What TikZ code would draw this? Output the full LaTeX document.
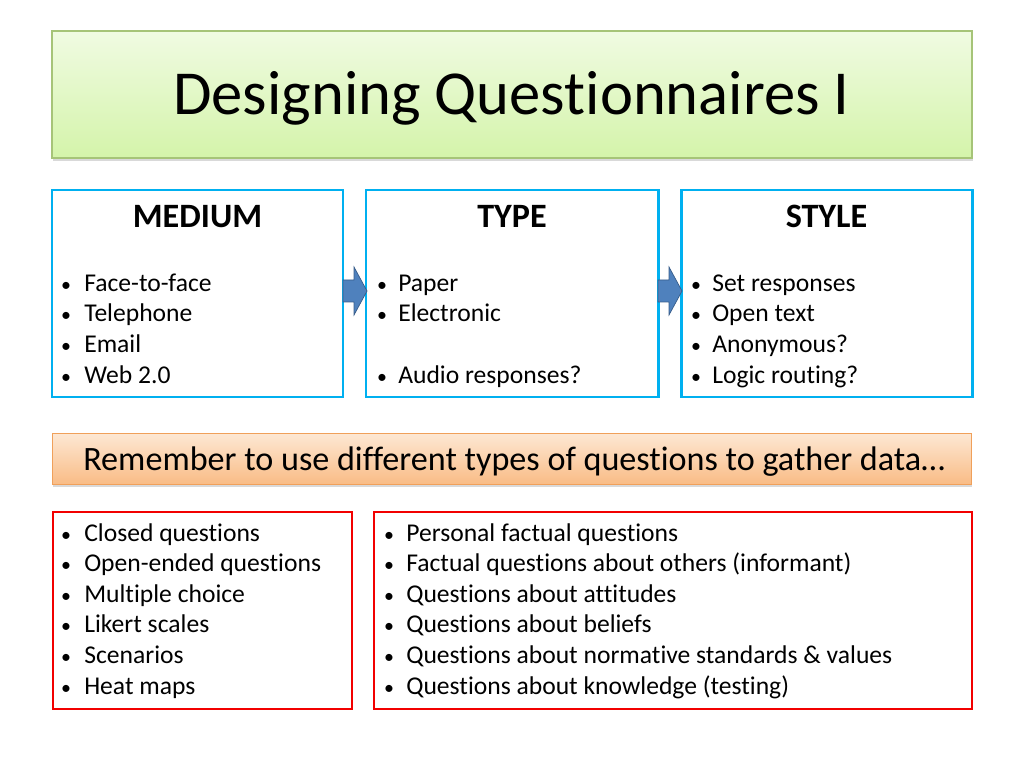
\documentclass[tikz,border=0pt]{standalone}
\usepackage{fontspec}
\setmainfont[Ligatures={NoCommon}]{Carlito}
\usetikzlibrary{shadows,calc}
\newlength\pxl
\setlength\pxl{0.703125pt}
\definecolor{boxblue}{RGB}{0,176,240}
\definecolor{arrowblue}{RGB}{79,129,189}
\definecolor{arrowdark}{RGB}{56,93,138}
\definecolor{greentop}{RGB}{240,251,226}
\definecolor{greenbot}{RGB}{212,244,170}
\definecolor{greenline}{RGB}{166,196,120}
\definecolor{orangetop}{RGB}{253,232,212}
\definecolor{orangebot}{RGB}{249,188,134}
\definecolor{orangeline}{RGB}{240,160,90}
\tikzset{
  panel/.style={anchor=north west, inner sep=0pt, outer sep=0pt},
  bluebox/.style={panel, draw=boxblue, line width=2.1pt, fill=white},
  redbox/.style={panel, draw=red!95!black, line width=2pt, fill=white},
  titlebox/.style={panel, draw=greenline, line width=0.8pt, top color=greentop, bottom color=greenbot,
     drop shadow={shadow xshift=1pt, shadow yshift=-2pt, opacity=0.3}},
  bannerbox/.style={panel, draw=orangeline, line width=0.6pt, top color=orangetop, bottom color=orangebot,
     drop shadow={shadow xshift=1pt, shadow yshift=-2pt, opacity=0.3}},
  txt/.style={inner sep=0pt, anchor=base west, font=\fontsize{18}{21.6}\selectfont},
  bul/.style={inner sep=0pt, anchor=base, font=\fontsize{14}{16.8}\selectfont},
  head/.style={inner sep=0pt, anchor=base, font=\fontsize{24}{28.8}\selectfont\bfseries},
  blockarrow/.style={fill=arrowblue, draw=arrowdark, line width=0.5pt, line join=miter},
}
\begin{document}
\begin{tikzpicture}[x=0.703125pt, y=-0.703125pt]
\useasboundingbox (0,0) rectangle (1024,768);
% title
\node[titlebox, minimum width=920\pxl, minimum height=127\pxl] (title) at (52,31) {};
\node[inner sep=0pt, anchor=base, font=\fontsize{44}{52.8}\selectfont] (titletext) at (511.5,115) {Designing Questionnaires I};
% top boxes
\node[bluebox, minimum width=291\pxl, minimum height=207\pxl] (medium) at (52,190) {};
\node[bluebox, minimum width=292\pxl, minimum height=207\pxl] (type) at (366,190) {};
\node[bluebox, minimum width=291\pxl, minimum height=207\pxl] (style) at (681,190) {};
\node[head] (mediumhead) at (197.5,228) {MEDIUM};
\node[head] (typehead) at (512,228) {TYPE};
\node[head] (stylehead) at (826.5,228) {STYLE};
% medium items
\foreach \t [count=\i from 0] in {Face-to-face,Telephone,Email,Web 2.0}{
  \node[bul] (mb\i) at (66,291+30.67*\i) {•};
  \node[txt] (mt\i) at (84,291+30.67*\i) {\t};
}
% type items
\node[bul] (tb0) at (382,291) {•};
\node[txt] (tt0) at (398,291) {Paper};
\node[bul] (tb1) at (382,321.67) {•};
\node[txt] (tt1) at (398,321.67) {Electronic};
\node[bul] (tb3) at (382,383) {•};
\node[txt] (tt3) at (398,383) {Audio responses?};
% style items
\foreach \t [count=\i from 0] in {Set responses,Open text,Anonymous?,Logic routing?}{
  \node[bul] (sb\i) at (696,291+30.67*\i) {•};
  \node[txt] (st\i) at (712,291+30.67*\i) {\t};
}
% arrows between boxes
\coordinate (a1) at ($(medium.east)+(0,-2.5)$);
\draw[blockarrow] ($(a1)+(0,-11)$) -- ++(11,0) -- ++(0,-13) -- ($(type.west)+(1,-2.5)$) -- ($(a1)+(11,24)$) -- ++(0,-13) -- ($(a1)+(0,11)$) -- cycle;
\coordinate (a2) at ($(type.east)+(0,-2.5)$);
\draw[blockarrow] ($(a2)+(0,-11)$) -- ++(11,0) -- ++(0,-13) -- ($(style.west)+(1,-2.5)$) -- ($(a2)+(11,24)$) -- ++(0,-13) -- ($(a2)+(0,11)$) -- cycle;
% banner
\node[bannerbox, minimum width=919\pxl, minimum height=51\pxl] (banner) at (52,433) {};
\node[inner sep=0pt, anchor=base west, font=\fontsize{24}{28.8}\selectfont] (bannertext) at (83,470) {Remember to use different types of questions to gather data…};
% bottom boxes
\node[redbox, minimum width=299\pxl, minimum height=197\pxl] (left) at (53,512) {};
\node[redbox, minimum width=598\pxl, minimum height=197\pxl] (right) at (374,512) {};
\foreach \t [count=\i from 0] in {Closed questions,Open-ended questions,Multiple choice,Likert scales,Scenarios,Heat maps}{
  \node[bul] (lb\i) at (66,541+30.65*\i) {•};
  \node[txt] (lt\i) at (84,541+30.65*\i) {\t};
}
\foreach \t [count=\i from 0] in {Personal factual questions,Factual questions about others (informant),Questions about attitudes,Questions about beliefs,Questions about normative standards \& values,Questions about knowledge (testing)}{
  \node[bul] (rb\i) at (389,541+30.65*\i) {•};
  \node[txt] (rt\i) at (406,541+30.65*\i) {\t};
}
\end{tikzpicture}
\end{document}
